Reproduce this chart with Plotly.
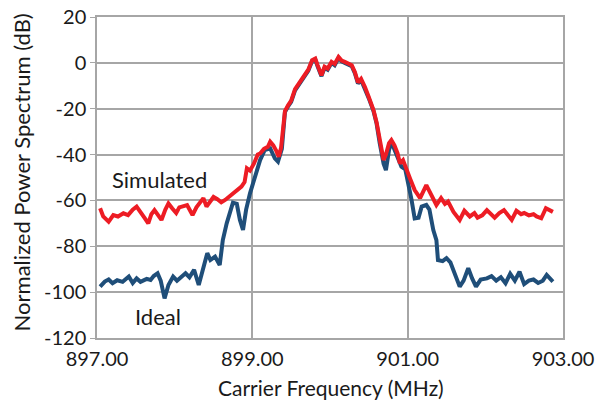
import plotly.graph_objects as go

freq_sim = [897.04, 897.08, 897.15, 897.21, 897.27, 897.34, 897.40, 897.46, 897.51, 897.56,
            897.61, 897.66, 897.70, 897.74, 897.79, 897.83, 897.88, 897.92, 897.97, 898.02,
            898.06, 898.10, 898.16, 898.20, 898.23, 898.28, 898.33, 898.37, 898.41, 898.46,
            898.50, 898.55, 898.60, 898.65, 898.70, 898.74, 898.78, 898.83, 898.86, 898.90,
            898.93, 898.97, 899.02, 899.07, 899.10, 899.15, 899.20, 899.23, 899.27, 899.31,
            899.34, 899.37, 899.42, 899.46, 899.50, 899.55, 899.60, 899.64, 899.68, 899.72,
            899.77, 899.81, 899.84, 899.89, 899.93, 899.97, 900.02, 900.06, 900.11, 900.15,
            900.19, 900.24, 900.28, 900.32, 900.36, 900.40, 900.45, 900.50, 900.56, 900.60,
            900.64, 900.69, 900.72, 900.76, 900.79, 900.83, 900.87, 900.90, 900.94, 900.98,
            901.03, 901.09, 901.16, 901.24, 901.30, 901.37, 901.43, 901.48, 901.52, 901.59,
            901.67, 901.73, 901.80, 901.86, 901.90, 901.96, 902.02, 902.08, 902.12, 902.18,
            902.24, 902.34, 902.40, 902.46, 902.50, 902.56, 902.62, 902.66, 902.72, 902.78,
            902.87]
db_sim = [-63.4, -67.0, -69.3, -66.4, -67.0, -65.6, -66.4, -64.0, -62.7, -65.5,
          -67.5, -70.0, -66.0, -64.2, -66.5, -68.5, -64.0, -61.3, -63.5, -65.5,
          -63.0, -62.5, -62.0, -64.5, -66.4, -63.0, -60.5, -59.0, -62.7, -60.0,
          -58.5, -59.5, -60.8, -59.8, -58.5, -57.5, -56.2, -55.0, -54.0, -52.0,
          -46.0, -47.0, -44.0, -40.0, -39.5, -37.5, -36.6, -34.4, -36.0, -38.5,
          -41.0, -37.0, -21.0, -18.5, -16.5, -11.5, -9.0, -7.0, -5.0, -3.0,
          1.2, 1.9, -1.0, -5.4, -1.7, -2.5, 0.4, -0.5, 2.6, 1.0,
          0.4, -0.3, -1.0, -4.0, -8.5, -7.0, -10.5, -15.0, -20.6, -26.0,
          -33.7, -42.4, -40.0, -35.0, -33.7, -36.0, -39.5, -43.8, -42.4, -45.5,
          -50.4, -55.5, -59.0, -53.3, -57.6, -62.0, -59.0, -61.5, -60.5, -65.0,
          -68.5, -64.5, -67.0, -65.5, -67.5, -66.5, -64.2, -66.5, -67.5, -65.5,
          -64.2, -68.5, -64.5, -66.0, -65.5, -66.5, -66.0, -67.0, -67.8, -63.4,
          -65.0]

freq_ideal = [897.04, 897.10, 897.15, 897.20, 897.26, 897.33, 897.41, 897.46, 897.51, 897.56,
              897.64, 897.69, 897.73, 897.78, 897.82, 897.87, 897.92, 897.98, 898.03, 898.09,
              898.14, 898.19, 898.25, 898.31, 898.37, 898.42, 898.46, 898.52, 898.58, 898.62,
              898.67, 898.70, 898.75, 898.80, 898.84, 898.88, 898.92, 898.97, 899.03, 899.10,
              899.16, 899.23, 899.29, 899.33, 899.38, 899.42, 899.46, 899.50, 899.55, 899.60,
              899.64, 899.68, 899.72, 899.77, 899.81, 899.84, 899.89, 899.93, 899.97, 900.02,
              900.06, 900.11, 900.15, 900.19, 900.24, 900.28, 900.32, 900.36, 900.40, 900.45,
              900.50, 900.56, 900.60, 900.64, 900.69, 900.72, 900.76, 900.79, 900.83, 900.87,
              900.92, 900.97, 901.01, 901.05, 901.09, 901.14, 901.18, 901.24, 901.28, 901.33,
              901.37, 901.39, 901.45, 901.50, 901.55, 901.61, 901.67, 901.72, 901.78, 901.83,
              901.88, 901.94, 902.02, 902.08, 902.14, 902.20, 902.26, 902.32, 902.38, 902.44,
              902.50, 902.56, 902.62, 902.68, 902.74, 902.79, 902.87]
db_ideal = [-97.6, -95.4, -94.5, -96.1, -94.8, -95.5, -93.2, -96.0, -94.0, -95.5,
            -94.2, -94.7, -93.0, -91.8, -95.0, -102.7, -96.9, -93.2, -95.0, -93.0,
            -91.8, -93.5, -90.3, -96.9, -89.6, -83.0, -86.0, -84.5, -88.2, -77.3,
            -70.0, -66.0, -61.0, -61.5, -68.5, -72.9, -64.0, -56.9, -49.7, -42.4,
            -38.0, -37.3, -41.7, -43.1, -37.5, -21.5, -19.0, -17.0, -12.0, -9.5,
            -7.5, -5.5, -3.5, 0.8, 1.5, -1.5, -5.8, -2.2, -3.0, 0.0,
            -1.0, 2.2, 0.6, 0.0, -0.7, -1.5, -4.5, -9.0, -7.5, -11.0,
            -15.5, -21.0, -26.5, -35.0, -44.0, -46.8, -38.0, -34.5, -38.0, -42.0,
            -45.3, -46.5, -52.6, -59.8, -67.8, -67.5, -62.7, -62.0, -64.0, -72.9,
            -77.3, -86.0, -86.5, -85.2, -87.0, -92.5, -97.6, -95.0, -89.6, -94.0,
            -97.6, -94.5, -94.0, -93.0, -95.0, -93.5, -96.1, -92.0, -95.0, -91.1,
            -96.5, -95.0, -94.5, -96.0, -95.0, -92.5, -95.4]

x_ticks = [897, 899, 901, 903]
x_labels = ["897.00", "899.00", "901.00", "903.00"]
y_ticks = [20, 0, -20, -40, -60, -80, -100, -120]
y_labels = ["20", "0", "-20", "-40", "-60", "-80", "-100", "-120"]

FONT = "Lato, 'Open Sans', sans-serif"
GRID = "#A6A6A6"
TXT = "#1a1a1a"

fig = go.Figure()
fig.add_trace(go.Scatter(x=freq_ideal, y=db_ideal, mode="lines", name="Ideal",
                         line=dict(color="#1F4E79", width=4)))
fig.add_trace(go.Scatter(x=freq_sim, y=db_sim, mode="lines", name="Simulated",
                         line=dict(color="#ED1C24", width=4)))

fig.add_annotation(x=897.8, y=-51, text="Simulated", showarrow=False,
                   font=dict(size=22, color=TXT, family=FONT))
fig.add_annotation(x=897.78, y=-110.5, text="Ideal", showarrow=False,
                   font=dict(size=22, color=TXT, family=FONT))
# axis titles
fig.add_annotation(xref="paper", yref="paper", x=0.502, y=-0.153, yanchor="middle",
                   text="Carrier Frequency (MHz)", showarrow=False,
                   font=dict(size=21, color=TXT, family=FONT))
fig.add_annotation(xref="paper", yref="paper", x=-0.163, y=0.516, xanchor="center",
                   yanchor="middle", textangle=-90,
                   text="Normalized Power Spectrum (dB)", showarrow=False,
                   font=dict(size=22, color=TXT, family=FONT))

fig.update_layout(
    width=597, height=405,
    margin=dict(l=97, r=34, t=17, b=67, autoexpand=False),
    paper_bgcolor="white", plot_bgcolor="white",
    showlegend=False,
    font=dict(family=FONT, size=20, color=TXT),
    xaxis=dict(range=[897, 903], tickvals=x_ticks, ticktext=x_labels,
               showgrid=True, gridcolor=GRID, gridwidth=1.5,
               showline=True, linecolor=GRID, linewidth=1.5, mirror=True,
               zeroline=False, ticks="", automargin=False, ticklabelstandoff=2,
               tickfont=dict(size=20, color=TXT, family=FONT)),
    yaxis=dict(range=[-120, 20], tickvals=y_ticks, ticktext=y_labels,
               showgrid=True, gridcolor=GRID, gridwidth=1.5,
               showline=True, linecolor=GRID, linewidth=1.5, mirror=True,
               zeroline=False, ticks="outside", ticklen=5, tickcolor=GRID,
               automargin=False,
               tickfont=dict(size=20, color=TXT, family=FONT)),
)

fig.write_html("out.html", config={"displayModeBar": False},
               post_script="document.body.style.margin='0';document.body.style.overflow='hidden';")
